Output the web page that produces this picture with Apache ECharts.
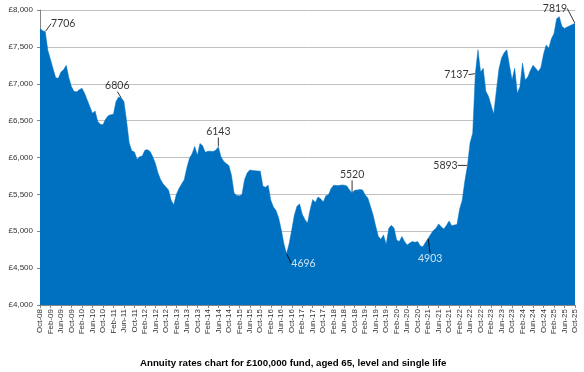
<!DOCTYPE html>
<html>
<head>
<meta charset="utf-8">
<script src="https://cdn.jsdelivr.net/npm/echarts@6/dist/echarts.min.js"></script>
<style>html,body{margin:0;padding:0;background:#fff}#c{width:584px;height:372px}</style>
</head>
<body>
<div id="c"></div>
<script>
// Category labels: monthly, Oct-08 .. Oct-25
const MONTH_NAMES = ['Jan','Feb','Mar','Apr','May','Jun','Jul','Aug','Sep','Oct','Nov','Dec'];
const START_YEAR = 2008, START_MONTH = 9, END_YEAR = 2025, END_MONTH = 9;
const categories = [];
for (let y = START_YEAR, m = START_MONTH; y < END_YEAR || (y === END_YEAR && m <= END_MONTH); ) {
  categories.push(MONTH_NAMES[m] + '-' + String(y % 100).padStart(2, '0'));
  m++; if (m === 12) { m = 0; y++; }
}

// Annuity income (£ per year) for £100,000 fund
const annuityRates = [
  7750,7720,7706,7450,7330,7200,7080,7075,7160,7190,7250,7080,
  6960,6895,6890,6920,6940,6870,6780,6690,6600,6630,6490,6450,
  6445,6520,6565,6580,6585,6760,6820,6806,6760,6500,6200,6090,
  6075,5975,6010,6020,6100,6105,6080,6010,5920,5790,5700,5640,
  5600,5560,5420,5360,5500,5580,5640,5700,5860,5990,6050,6150,
  6030,6190,6160,6070,6085,6085,6080,6100,6143,6010,5950,5920,
  5890,5760,5520,5485,5480,5495,5700,5790,5830,5825,5820,5818,
  5815,5610,5595,5625,5420,5330,5280,5180,5020,4830,4696,4830,
  5020,5220,5340,5370,5230,5160,5110,5290,5430,5390,5465,5440,
  5395,5480,5495,5580,5625,5620,5620,5627,5625,5615,5560,5520,
  5555,5560,5565,5560,5490,5450,5340,5220,5070,4930,4890,4950,
  4820,5040,5080,5040,4880,4860,4930,4860,4815,4840,4860,4850,
  4860,4800,4790,4850,4903,4960,5010,5040,5100,5060,5030,5080,
  5140,5075,5085,5090,5300,5420,5680,5893,6200,6330,7137,7460,
  7160,7210,6900,6830,6710,6590,6900,7200,7350,7420,7460,7250,
  7050,7210,6870,6960,7280,7050,7090,7180,7250,7210,7165,7220,
  7400,7526,7480,7610,7680,7880,7910,7780,7750,7770,7785,7805,
  7819
];

// Annotated points (indices into categories)
const labelIndices = [2, 31, 68, 94, 119, 148, 163, 166, 204];

// Y axis ticks
const yMin = 4000, yMax = 8000, yStep = 500;

// label styling (offsets in px, colours)
const labelShift = [[18,-8],[-4,-12],[0,-15],[17,10],[0,-18],[2,20],[-22,0],[-19,1],[-20,-15]];
const labelColor = ['#000','#000','#000','#fff','#000','#fff','#000','#000','#000'];

const labelData = labelIndices.map((idx, i) => ({
  value: [idx, annuityRates[idx]],
  label: { color: labelColor[i] }
}));

const chart = echarts.init(document.getElementById('c'), null, {renderer: 'canvas'});
chart.setOption({
  animation: false,
  title: {
    text: 'Annuity rates chart for £100,000 fund, aged 65, level and single life',
    left: 135, top: 353,
    textStyle: { fontFamily: 'Liberation Sans, Arial', fontSize: 9.7, fontWeight: 'bold', color: '#000' }
  },
  grid: { left: 40, right: 9, top: 10, bottom: 67, containLabel: false },
  xAxis: {
    type: 'category',
    data: categories,
    boundaryGap: false,
    axisLine: { lineStyle: { color: '#868686', width: 1 } },
    axisTick: { show: true, interval: 3, length: 3, lineStyle: { color: '#868686' } },
    axisLabel: { interval: 3, rotate: 90, fontSize: 8, color: '#333', margin: 4,
      fontFamily: 'Liberation Sans, Arial' },
    splitLine: { show: false }
  },
  yAxis: {
    type: 'value', min: yMin, max: yMax, interval: yStep,
    axisLine: { show: true, lineStyle: { color: '#868686' } },
    axisTick: { show: true, length: 3, lineStyle: { color: '#868686' } },
    axisLabel: { fontSize: 8, color: '#333', margin: 7, fontFamily: 'Liberation Sans, Arial',
      formatter: v => '£' + v.toLocaleString('en-GB') },
    splitLine: { lineStyle: { color: '#BFBFBF', width: 1 } }
  },
  series: [
    {
      type: 'line',
      data: annuityRates,
      showSymbol: false,
      symbol: 'none',
      lineStyle: { width: 0.5, color: '#0070C0' },
      areaStyle: { color: '#0070C0', opacity: 1, origin: 'start' },
      z: 2
    },
    {
      type: 'scatter',
      data: labelData,
      symbolSize: 1,
      itemStyle: { color: 'rgba(0,0,0,0)' },
      z: 5,
      label: {
        show: true, position: 'inside',
        fontFamily: 'Lato, Open Sans', fontSize: 10.5,
        formatter: p => String(p.value[1])
      },
      labelLine: { show: true, lineStyle: { color: '#000', width: 0.8 } },
      labelLayout: p => ({ dx: labelShift[p.dataIndex][0], dy: labelShift[p.dataIndex][1] })
    }
  ]
});
</script>
</body>
</html>
